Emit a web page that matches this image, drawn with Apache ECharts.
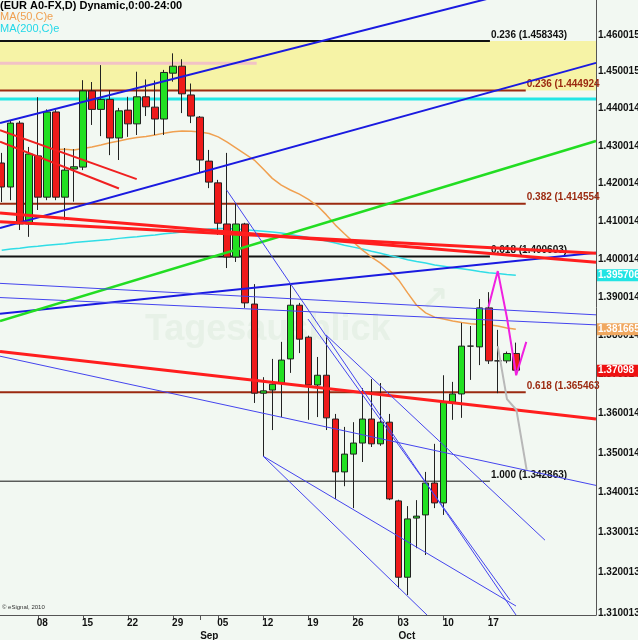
<!DOCTYPE html>
<html><head><meta charset="utf-8">
<script src="https://cdn.jsdelivr.net/npm/echarts@6/dist/echarts.min.js"></script>
<style>html,body{margin:0;padding:0;background:#F2F8F2}#c{width:638px;height:640px}</style>
</head><body><div id="c"></div>
<script>
// ---------- categories (trading days) ----------
const dates = [
 '2011-08-02','2011-08-03','2011-08-04','2011-08-05',
 '2011-08-08','2011-08-09','2011-08-10','2011-08-11','2011-08-12',
 '2011-08-15','2011-08-16','2011-08-17','2011-08-18','2011-08-19',
 '2011-08-22','2011-08-23','2011-08-24','2011-08-25','2011-08-26',
 '2011-08-29','2011-08-30','2011-08-31','2011-09-01','2011-09-02',
 '2011-09-05','2011-09-06','2011-09-07','2011-09-08','2011-09-09',
 '2011-09-12','2011-09-13','2011-09-14','2011-09-15','2011-09-16',
 '2011-09-19','2011-09-20','2011-09-21','2011-09-22','2011-09-23',
 '2011-09-26','2011-09-27','2011-09-28','2011-09-29','2011-09-30',
 '2011-10-03','2011-10-04','2011-10-05','2011-10-06','2011-10-07',
 '2011-10-10','2011-10-11','2011-10-12','2011-10-13','2011-10-14',
 '2011-10-17','2011-10-18','2011-10-19','2011-10-20','2011-10-21',
 '2011-10-24','2011-10-25','2011-10-26','2011-10-27','2011-10-28',
 '2011-10-31','2011-11-01'];
// ---------- OHLC ----------
const opens  = [1.4254,1.4190,1.4361,1.4092,1.4273,1.4163,1.4391,1.4163,1.4238,1.4243,1.4448,1.4398,1.4425,1.4321,1.4396,1.4359,1.4432,1.4404,1.4372,1.4496,1.4515,1.4437,1.4377,1.4259,1.4201,1.4092,1.4005,1.4092,1.3882,1.3652,1.3660,1.3678,1.3740,1.3879,1.3796,1.3673,1.3698,1.3586,1.3452,1.3497,1.3525,1.3586,1.3523,1.3578,1.3379,1.3189,1.3336,1.3344,1.3424,1.3374,1.3629,1.3650,1.3773,1.3771,1.3872,1.3735,1.3735,1.3754];
const closes = [1.4190,1.4361,1.4092,1.4278,1.4163,1.4391,1.4163,1.4235,1.4244,1.4448,1.4398,1.4425,1.4321,1.4394,1.4359,1.4432,1.4405,1.4372,1.4498,1.4515,1.4440,1.4380,1.4262,1.4203,1.4094,1.4005,1.4092,1.3885,1.3652,1.3658,1.3675,1.3737,1.3879,1.3791,1.3673,1.3698,1.3589,1.3452,1.3497,1.3525,1.3586,1.3523,1.3578,1.3384,1.3189,1.3334,1.3341,1.3424,1.3374,1.3629,1.3650,1.3773,1.3773,1.3872,1.3735,1.3735,1.3754,1.3711];
const lows   = [1.4150,1.4155,1.4076,1.4058,1.4129,1.4155,1.4155,1.4102,1.4151,1.4235,1.4356,1.4326,1.4275,1.4262,1.4324,1.4329,1.4380,1.4329,1.4329,1.4473,1.4388,1.4361,1.4230,1.4187,1.4063,1.3976,1.3992,1.3872,1.3627,1.3492,1.3558,1.3591,1.3704,1.3755,1.3584,1.3591,1.3558,1.3384,1.3416,1.3361,1.3477,1.3515,1.3518,1.3381,1.3162,1.3145,1.3261,1.3244,1.3361,1.3344,1.3584,1.3589,1.3686,1.3724,1.3727,1.3652,1.3729,1.3706];
const highs  = [1.4281,1.4367,1.4367,1.4297,1.4431,1.4398,1.4396,1.4294,1.4291,1.4477,1.4472,1.4518,1.4450,1.4402,1.4432,1.4500,1.4479,1.4476,1.4505,1.4550,1.4534,1.4468,1.4380,1.4289,1.4209,1.4281,1.4147,1.4095,1.3934,1.3693,1.3740,1.3784,1.3937,1.3885,1.3800,1.3745,1.3796,1.3599,1.3566,1.3578,1.3665,1.3688,1.3678,1.3599,1.3382,1.3366,1.3381,1.3452,1.3523,1.3698,1.3681,1.3833,1.3825,1.3895,1.3913,1.3815,1.3759,1.3782];
// ---------- moving averages ----------
const ma50 = [null,null,null,null,null,null,1.4290,1.4291,1.4289,1.4293,1.4297,1.4302,1.4308,1.4313,1.4318,1.4322,1.4325,1.4329,1.4334,1.4338,1.4340,1.4339,1.4337,1.4333,1.4324,1.4310,1.4294,1.4278,1.4262,1.4238,1.4213,1.4195,1.4182,1.4171,1.4157,1.4140,1.4116,1.4089,1.4066,1.4044,1.4023,1.4005,1.3989,1.3970,1.3945,1.3911,1.3879,1.3859,1.3848,1.3843,1.3838,1.3834,1.3831,1.3829,1.3828,1.3825,1.3820,1.381665];
const ma200 = [1.4023,1.4026,1.4028,1.4031,1.4033,1.4036,1.4038,1.4040,1.4043,1.4045,1.4047,1.4049,1.4051,1.4054,1.4056,1.4058,1.4061,1.4063,1.4066,1.4068,1.4071,1.4074,1.4076,1.4079,1.4080,1.4080,1.4079,1.4077,1.4075,1.4073,1.4071,1.4068,1.4064,1.4060,1.4056,1.4052,1.4047,1.4042,1.4036,1.4031,1.4026,1.4020,1.4015,1.4009,1.4004,1.3998,1.3993,1.3989,1.3984,1.3981,1.3977,1.3974,1.3971,1.3967,1.3964,1.3962,1.3959,1.395706];
// ---------- axis ticks ----------
const yTickLabels = ['1.310013','1.320013','1.330013','1.340013','1.350014','1.360014','1.370014','1.380014','1.390014','1.400014','1.410014','1.420014','1.430014','1.440014','1.450015','1.460015'];
const weekTickIdx = [4,9,14,19,24,29,34,39,44,49,54];
const monthTickIdx = [22,44];
const monthNames = ['Jan','Feb','Mar','Apr','May','Jun','Jul','Aug','Sep','Oct','Nov','Dec'];
// visible window (bar units / price)
const xMin = -0.19, xMax = 65.89;
const yMin = 1.309596, yMax = 1.469626;
// ---------- fibonacci levels ----------
const fibBlack = [['0.236',1.458343],['0.618',1.400603],['1.000',1.342863]];
const fibBlackEnd = 54.13;
const fibBrown = [['0.236',1.444924],['0.382',1.414554],['0.618',1.365463]];
const fibBrownEnd = 58.1;
const bandLevels = [1.458343, 1.444924];
const cyanLevel = 1.4426;
const pinkLine = [[-0.19,1.4523],[28.27,1.4523]];
// ---------- trend lines [barIndex, price] ----------
const blueThick = [
  [[-0.19,1.4361],[65.89,1.4776]],
  [[-0.19,1.4081],[65.89,1.4524]],
  [[-0.19,1.3857],[65.89,1.4016]]];
const greenLine = [[-0.19,1.3838],[65.89,1.4313]];
const redThick = [
  [[-0.19,1.4098],[65.89,1.4015]],
  [[-0.19,1.4121],[65.89,1.3991]],
  [[-0.19,1.3759],[65.89,1.3586]]];
const redShort = [
  [[-0.19,1.4342],[14.97,1.4211]],
  [[-0.19,1.4311],[13.0,1.4186]]];
const blueThin = [
  [[-0.19,1.3936],[65.89,1.3854]],
  [[-0.19,1.3899],[65.89,1.3828]],
  [[-0.19,1.3747],[65.89,1.3418]],
  [[24.94,1.4182],[57.02,1.3096]],
  [[33.96,1.3843],[56.35,1.3133]],
  [[28.97,1.3492],[47.15,1.3096]],
  [[28.97,1.3492],[57.02,1.3118]],
  [[35.95,1.3802],[60.23,1.3281]]];
const magentaPath = [[53.97,1.3875],[55.0,1.3968],[56.02,1.3846],[57.04,1.3698],[58.16,1.3784]];
const grayPath = [[55.0,1.3773],[56.02,1.3637],[57.07,1.3609],[58.2,1.3457]];
const priceTags = [
  {value:1.395706, text:'1.395706', bg:'#22E4E4'},
  {value:1.381665, text:'1.381665', bg:'#F0A860'},
  {value:1.37098,  text:'1.37098',  bg:'#EE1111'}];

const FONT = 'Liberation Sans';
const chart = echarts.init(document.getElementById('c'));

function lineSeries(data, color, width, z, extra) {
  return Object.assign({
    type:'line', data:data, symbol:'none', silent:true, animation:false, z:z,
    lineStyle:{color:color, width:width}, clip:true
  }, extra || {});
}
const series = [];
series.push(lineSeries([[xMin,cyanLevel],[xMax,cyanLevel]], '#22E6E6', 3, 1, {
  markArea:{silent:true, itemStyle:{color:'#F6F3A6'}, data:[[{yAxis:bandLevels[0]},{yAxis:bandLevels[1]}]]}
}));
series.push(lineSeries(pinkLine, '#F2C2C6', 3, 1));
fibBlack.forEach((f,i)=>{
  series.push(lineSeries([[xMin,f[1]],[fibBlackEnd,f[1]]], '#111', i===2?1:2, 2, {
    endLabel:{show:true, formatter:f[0]+' ('+f[1].toFixed(6)+')', color:'#111', fontWeight:'bold', fontSize:10, fontFamily:FONT, distance:1, offset:[0,-6]}
  }));
});
fibBrown.forEach((f)=>{
  series.push(lineSeries([[xMin,f[1]],[fibBrownEnd,f[1]]], '#9B2A10', 2, 2, {
    endLabel:{show:true, formatter:f[0]+' ('+f[1].toFixed(6), color:'#9B2A10', fontWeight:'bold', fontSize:10, fontFamily:FONT, distance:1, offset:[0,-6]}
  }));
});
series.push(lineSeries(ma200.map((v,i)=>[i,v]), '#30DDE6', 1.5, 2));
series.push(lineSeries(ma50.map((v,i)=>[i,v]), '#F0A050', 1.5, 2, {connectNulls:false}));
series.push({
  type:'candlestick', z:3, animation:false, silent:true, barWidth:7,
  encode:{x:0, y:[1,2,3,4]},
  data: opens.map((o,i)=>[i,o,closes[i],lows[i],highs[i]]),
  itemStyle:{color:'#22E022', color0:'#EE1A1A', borderColor:'#222', borderColor0:'#222', borderWidth:1}
});
blueThick.forEach(d=>series.push(lineSeries(d,'#1A1AE0',2,4)));
series.push(lineSeries(greenLine,'#22DD22',2.5,4));
redThick.forEach(d=>series.push(lineSeries(d,'#FF1E1E',3,4)));
redShort.forEach(d=>series.push(lineSeries(d,'#F02020',2,4)));
blueThin.forEach(d=>series.push(lineSeries(d,'#4444EE',1,4)));
series.push(lineSeries(grayPath,'#B8B8B8',2,5));
series.push(lineSeries(magentaPath,'#F020E0',2,5));

const axisFont = {fontFamily:FONT, fontWeight:'bold', fontSize:10, color:'#111'};
chart.setOption({
  backgroundColor:'#F2F8F2',
  animation:false,
  grid:{left:0, top:0, width:596, height:615, outerBoundsMode:'none', containLabel:false},
  xAxis:[{
    type:'value', min:xMin, max:xMax, position:'bottom',
    axisLine:{show:true, onZero:false, lineStyle:{color:'#555', width:1}},
    axisTick:{show:true, customValues:weekTickIdx.concat(monthTickIdx), length:5, lineStyle:{color:'#555'}},
    axisLabel:Object.assign({customValues:weekTickIdx, align:'left', margin:3, padding:[0,0,0,-1],
      formatter:v=>dates[Math.round(v)].slice(8)}, axisFont),
    splitLine:{show:false}
  },{
    type:'value', min:xMin, max:xMax, position:'bottom', offset:13,
    axisLine:{show:false, onZero:false}, axisTick:{show:false}, splitLine:{show:false},
    axisLabel:Object.assign({customValues:monthTickIdx, align:'left', margin:3,
      formatter:v=>monthNames[parseInt(dates[Math.round(v)].slice(5,7),10)-1]}, axisFont)
  }],
  yAxis:{
    type:'log', logBase:10, min:yMin, max:yMax, position:'right',
    axisLine:{show:true, onZero:false, lineStyle:{color:'#555', width:1}},
    axisTick:{show:false}, splitLine:{show:false}, minorTick:{show:false},
    axisLabel:Object.assign({customValues:yTickLabels.map(Number), margin:2,
      formatter:v=>{let best=yTickLabels[0],bd=1e9;yTickLabels.forEach(s=>{const d=Math.abs(Number(s)-v);if(d<bd){bd=d;best=s;}});return best;}}, axisFont)
  },
  series:series
});

const g = [
  {type:'text', z:0, left:145, top:312, style:{text:'Tagesausblick', font:'bold 36px "Liberation Sans"', fill:'rgba(205,225,205,0.3)'}},
  {type:'text', z:0, left:420, top:284, style:{text:'\u2197', font:'bold 34px "DejaVu Sans"', fill:'rgba(205,225,205,0.35)'}},
  {type:'text', z:50, left:0, top:0, style:{text:'(EUR A0-FX,D) Dynamic,0:00-24:00', font:'bold 11px "Liberation Sans"', fill:'#000'}},
  {type:'text', z:50, left:0, top:11, style:{text:'MA(50,C)e', font:'11px "Liberation Sans"', fill:'#F0A050'}},
  {type:'text', z:50, left:0, top:23, style:{text:'MA(200,C)e', font:'11px "Liberation Sans"', fill:'#22D8E8'}},
  {type:'text', z:50, left:2, top:604, style:{text:'\u00A9 eSignal, 2010', font:'6px "Liberation Sans"', fill:'#333'}}
];
priceTags.forEach(t=>{
  const y = chart.convertToPixel({yAxisIndex:0}, t.value);
  g.push({type:'rect', z:100, shape:{x:597, y:y-6, width:41, height:12}, style:{fill:t.bg}});
  g.push({type:'text', z:101, x:598, y:y, style:{text:t.text, font:'bold 10px "Liberation Sans"', fill:'#fff', textVerticalAlign:'middle', verticalAlign:'middle'}});
});
chart.setOption({graphic:g});
</script></body></html>
